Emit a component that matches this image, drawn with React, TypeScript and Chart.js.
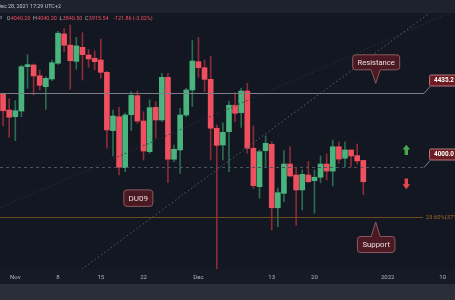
import React, { useEffect, useRef } from "react";
import { Chart, registerables } from "chart.js";

Chart.register(...registerables);

// ---------- data ----------
const dates = [
  "2021-10-30", "2021-10-31",
  "2021-11-01", "2021-11-02", "2021-11-03", "2021-11-04", "2021-11-05", "2021-11-06", "2021-11-07",
  "2021-11-08", "2021-11-09", "2021-11-10", "2021-11-11", "2021-11-12", "2021-11-13", "2021-11-14",
  "2021-11-15", "2021-11-16", "2021-11-17", "2021-11-18", "2021-11-19", "2021-11-20", "2021-11-21",
  "2021-11-22", "2021-11-23", "2021-11-24", "2021-11-25", "2021-11-26", "2021-11-27", "2021-11-28",
  "2021-11-29", "2021-11-30",
  "2021-12-01", "2021-12-02", "2021-12-03", "2021-12-04", "2021-12-05", "2021-12-06", "2021-12-07",
  "2021-12-08", "2021-12-09", "2021-12-10", "2021-12-11", "2021-12-12", "2021-12-13", "2021-12-14",
  "2021-12-15", "2021-12-16", "2021-12-17", "2021-12-18", "2021-12-19", "2021-12-20", "2021-12-21",
  "2021-12-22", "2021-12-23", "2021-12-24", "2021-12-25", "2021-12-26", "2021-12-27", "2021-12-28",
];
const opens = [
  4428, 4334,
  4295, 4328, 4587, 4597, 4534, 4470, 4515,
  4607, 4778, 4713, 4618, 4700, 4655, 4636,
  4626, 4554, 4214, 4295, 3998, 4307, 4418,
  4270, 4091, 4350, 4276, 4525, 4047, 4101,
  4305, 4451,
  4616, 4581, 4513, 4228, 4130, 4208, 4362,
  4319, 4445, 4111, 3887, 4097, 4134, 3764,
  3848, 4019, 3955, 3868, 3955, 3922, 3942,
  4019, 3978, 4120, 4053, 4101, 4068, 4040.2,
];
const highs = [
  4434, 4400,
  4389, 4595, 4657, 4603, 4568, 4529, 4626,
  4793, 4809, 4830, 4758, 4785, 4688, 4680,
  4747, 4560, 4334, 4350, 4317, 4441, 4445,
  4324, 4393, 4383, 4548, 4548, 4130, 4344,
  4461, 4739,
  4758, 4626, 4649, 4247, 4260, 4387, 4435,
  4461, 4490, 4241, 4101, 4183, 4149, 3879,
  4097, 4120, 4000, 3984, 4033, 3984, 4066,
  4078, 4159, 4149, 4149, 4101, 4136, 4040.2,
];
const lows = [
  4241, 4175,
  4155, 4295, 4461, 4422, 4451, 4338, 4505,
  4600, 4674, 4455, 4572, 4509, 4583, 4568,
  4519, 4111, 4066, 3955, 3974, 4214, 4257,
  4043, 4082, 4169, 4266, 3910, 4033, 3965,
  4295, 4354,
  4525, 4441, 4043, 3380, 4043, 3974, 4266,
  4233, 4082, 3877, 3819, 4004, 3634, 3653,
  3799, 3945, 3663, 3751, 3910, 3732, 3910,
  3926, 3891, 4023, 4004, 4004, 4019, 3840.5,
];
const closes = [
  4330, 4292,
  4330, 4587, 4599, 4533, 4478, 4519, 4610,
  4782, 4712, 4622, 4708, 4657, 4632, 4616,
  4554, 4218, 4299, 4000, 4305, 4420, 4270,
  4095, 4348, 4276, 4525, 4047, 4105, 4305,
  4451, 4620,
  4581, 4513, 4228, 4128, 4204, 4362, 4315,
  4445, 4111, 3893, 4091, 4140, 3764, 3852,
  4019, 3949, 3868, 3959, 3916, 3942, 4019,
  3978, 4120, 4048, 4101, 4066, 4037.4, 3915.54,
];

const tickDates = ["2021-11-01", "2021-11-08", "2021-11-15", "2021-11-22", "2021-12-01", "2021-12-13", "2021-12-20", "2022-01-01", "2022-01-10"];
const tickLabels = ["Nov", "8", "15", "22", "Dec", "13", "20", "2022", "10"];

const headerDate = "Dec 28, 2021 17:29 UTC+2";
const resistanceLevel = 4435.2;
const pivotLevel = 4000.0;
const fibLevel = 3711.76;
const fibPct = "23.60%";

// drawings anchored in (day, price)
const mainTrendDays = [10.88, 55.92];
const mainTrendPrices = [3405, 4587];
const faintTrendDays = [-2.5, 59.74];
const faintTrendPrices = [3763, 4725];
const calloutTipDay = 59.03;
const resistanceTipPrice = 4490;
const supportTipPrice = 3681;
const du09Day = 20.07;
const du09Price = 3823;
const arrowDay = 64.05;
const upArrowPrice = 4101;
const downArrowPrice = 3904;
const levelEndDay = 66.95;

// view range
const viewStartDay = -2.506;
const viewEndDay = 72.02;
const priceMin = 3406.7;
const priceMax = 4900.1;

// ---------- helpers ----------
const BASE = Date.UTC(2021, 10, 1);
const dayOf = (d: string) => (Date.parse(d + "T00:00:00Z") - BASE) / 86400000;
const dayIndex = dates.map(dayOf);

const UP = "#49b47e";
const DOWN = "#ef4f5f";
const UP_WICK = "#2c6a4f";
const DOWN_WICK = "#8a2b36";
const FONT = 'Roboto, "Noto Sans", Arial, sans-serif';

function roundRectPath(ctx: CanvasRenderingContext2D, x0: number, y0: number, w: number, h: number, r: number, notch?: { dir: "up" | "down"; tipX: number; tipY: number; half: number }) {
  const x1 = x0 + w, y1 = y0 + h;
  ctx.beginPath();
  ctx.moveTo(x0 + r, y0);
  if (notch && notch.dir === "up") {
    ctx.lineTo(notch.tipX - notch.half, y0);
    ctx.lineTo(notch.tipX, notch.tipY);
    ctx.lineTo(notch.tipX + notch.half, y0);
  }
  ctx.lineTo(x1 - r, y0);
  ctx.arcTo(x1, y0, x1, y0 + r, r);
  ctx.lineTo(x1, y1 - r);
  ctx.arcTo(x1, y1, x1 - r, y1, r);
  if (notch && notch.dir === "down") {
    ctx.lineTo(notch.tipX + notch.half, y1);
    ctx.lineTo(notch.tipX, notch.tipY);
    ctx.lineTo(notch.tipX - notch.half, y1);
  }
  ctx.lineTo(x0 + r, y1);
  ctx.arcTo(x0, y1, x0, y1 - r, r);
  ctx.lineTo(x0, y0 + r);
  ctx.arcTo(x0, y0, x0 + r, y0, r);
  ctx.closePath();
}

const decorPlugin = {
  id: "tvDecor",
  beforeDraw(chart: any) {
    const { ctx, width, height, chartArea } = chart;
    ctx.save();
    ctx.fillStyle = "#131722";
    ctx.fillRect(0, 0, width, height);
    ctx.fillStyle = "#1e222d";
    ctx.fillRect(0, 0, width, chartArea.top);
    ctx.fillStyle = "#161a25";
    ctx.fillRect(0, chartArea.bottom, width, 15);
    ctx.fillStyle = "#2a2e39";
    ctx.fillRect(0, chartArea.bottom + 15, width, height - chartArea.bottom - 15);
    ctx.restore();
  },
  afterDatasetsDraw(chart: any) {
    const { ctx, chartArea, scales } = chart;
    const xs = scales.x, ys = scales.y;
    const X = (d: number) => xs.getPixelForValue(d);
    const Y = (p: number) => ys.getPixelForValue(p);
    ctx.save();

    // clip for drawings
    ctx.save();
    ctx.beginPath();
    ctx.rect(chartArea.left, chartArea.top, chartArea.right - chartArea.left, chartArea.bottom - chartArea.top);
    ctx.clip();

    const trend = (days: number[], prices: number[], color: string, dash: number[]) => {
      const slope = (prices[1] - prices[0]) / (days[1] - days[0]);
      const dEnd = viewEndDay + 5;
      const pEnd = prices[0] + slope * (dEnd - days[0]);
      ctx.strokeStyle = color;
      ctx.lineWidth = 1;
      ctx.setLineDash(dash);
      ctx.beginPath();
      ctx.moveTo(X(days[0]), Y(prices[0]));
      ctx.lineTo(X(dEnd), Y(pEnd));
      ctx.stroke();
    };
    trend(faintTrendDays, faintTrendPrices, "#2d313d", [1.5, 2.5]);
    trend(mainTrendDays, mainTrendPrices, "#5a5e6a", [1.5, 2.5]);
    ctx.setLineDash([]);

    const xe = X(levelEndDay);
    // resistance level (solid)
    const yR = Math.round(Y(resistanceLevel)) + 0.5;
    ctx.strokeStyle = "#7b7e88";
    ctx.lineWidth = 1;
    ctx.beginPath();
    ctx.moveTo(0, yR);
    ctx.lineTo(xe, yR);
    ctx.lineTo(xe + 6, yR - 7);
    ctx.stroke();
    // pivot level (dashed)
    const yP = Math.round(Y(pivotLevel)) + 0.5;
    ctx.strokeStyle = "#4e525d";
    ctx.setLineDash([3, 3]);
    ctx.beginPath();
    ctx.moveTo(0, yP);
    ctx.lineTo(xe, yP);
    ctx.stroke();
    ctx.setLineDash([]);
    ctx.strokeStyle = "#7b7e88";
    ctx.beginPath();
    ctx.moveTo(xe, yP);
    ctx.lineTo(xe + 6, yP - 7);
    ctx.stroke();
    // fib line
    const yF = Math.round(Y(fibLevel)) + 0.5;
    ctx.strokeStyle = "#6e4a1c";
    ctx.beginPath();
    ctx.moveTo(0, yF);
    ctx.lineTo(xe - 1, yF);
    ctx.stroke();
    ctx.fillStyle = "#a06a26";
    ctx.font = `5.8px ${FONT}`;
    ctx.textBaseline = "middle";
    ctx.textAlign = "left";
    ctx.fillText(`${fibPct}(${fibLevel.toFixed(2)})`, xe + 2, yF);

    // level price tags
    const tag = (y: number, text: string) => {
      const bx = xe + 5.5, by = y - 18.5;
      ctx.fillStyle = "#6e1c24";
      ctx.strokeStyle = "#b4777e";
      ctx.lineWidth = 1;
      roundRectPath(ctx, bx, by, 40, 11, 1.5);
      ctx.fill();
      ctx.stroke();
      ctx.fillStyle = "#ffffff";
      ctx.font = `bold 6.3px ${FONT}`;
      ctx.textBaseline = "middle";
      ctx.fillText(text, bx + 4.5, by + 5.8);
    };
    tag(yR, resistanceLevel.toFixed(1));
    tag(yP, pivotLevel.toFixed(1));

    // callouts
    const callout = (cx: number, tipY: number, dir: "up" | "down", text: string, w: number, h: number, fs: number) => {
      const x0 = cx - w / 2;
      const y0 = dir === "down" ? tipY - 14 - h : tipY + 14;
      ctx.fillStyle = "#4a1922";
      ctx.strokeStyle = "#8c5a62";
      ctx.lineWidth = 1;
      roundRectPath(ctx, x0 + 0.5, y0 + 0.5, w, h, 3, { dir, tipX: cx, tipY, half: 4.5 });
      ctx.fill();
      ctx.stroke();
      ctx.fillStyle = "#ecdcde";
      ctx.font = `${fs}px ${FONT}`;
      ctx.textAlign = "center";
      ctx.textBaseline = "middle";
      ctx.fillText(text, cx + 0.5, y0 + h / 2 + 0.8);
      ctx.textAlign = "left";
    };
    const cX = X(calloutTipDay);
    callout(cX, Y(resistanceTipPrice), "down", "Resistance", 47, 15, 7.6);
    callout(cX, Y(supportTipPrice), "up", "Support", 37.5, 16, 7.8);

    // DU09 label
    {
      const cx = X(du09Day), cy = Y(du09Price);
      const w = 29, h = 16.5;
      ctx.fillStyle = "#4a1922";
      ctx.strokeStyle = "#8c5a62";
      roundRectPath(ctx, cx - w / 2 + 0.5, cy - h / 2 + 0.5, w, h, 3);
      ctx.fill();
      ctx.stroke();
      ctx.fillStyle = "#ecdcde";
      ctx.font = `8px ${FONT}`;
      ctx.textAlign = "center";
      ctx.textBaseline = "middle";
      ctx.fillText("DU09", cx + 0.5, cy + 1);
      ctx.textAlign = "left";
    }

    // arrows
    {
      const ax = X(arrowDay);
      const yu = Y(upArrowPrice);
      ctx.fillStyle = "#45a84f";
      ctx.beginPath();
      ctx.moveTo(ax, yu - 5.2);
      ctx.lineTo(ax + 3.8, yu - 0.5);
      ctx.lineTo(ax + 1.7, yu - 0.5);
      ctx.lineTo(ax + 1.7, yu + 5);
      ctx.lineTo(ax - 1.7, yu + 5);
      ctx.lineTo(ax - 1.7, yu - 0.5);
      ctx.lineTo(ax - 3.8, yu - 0.5);
      ctx.closePath();
      ctx.fill();
      const yd = Y(downArrowPrice);
      ctx.fillStyle = "#e8464c";
      ctx.beginPath();
      ctx.moveTo(ax, yd + 5.4);
      ctx.lineTo(ax + 3.8, yd + 0.5);
      ctx.lineTo(ax + 1.7, yd + 0.5);
      ctx.lineTo(ax + 1.7, yd - 5.2);
      ctx.lineTo(ax - 1.7, yd - 5.2);
      ctx.lineTo(ax - 1.7, yd + 0.5);
      ctx.lineTo(ax - 3.8, yd + 0.5);
      ctx.closePath();
      ctx.fill();
    }
    ctx.restore(); // end clip

    // x axis labels
    ctx.fillStyle = "#b2b5be";
    ctx.font = `6px ${FONT}`;
    ctx.textAlign = "center";
    ctx.textBaseline = "middle";
    tickDates.forEach((d, i) => {
      ctx.fillText(tickLabels[i], X(dayOf(d)), chartArea.bottom + 8);
    });

    // header
    ctx.textAlign = "left";
    ctx.fillStyle = "#c3c6ce";
    ctx.font = `5.4px ${FONT}`;
    ctx.fillText(headerDate, -2.5, 6.4);

    // OHLC legend
    const n = closes.length - 1;
    const chg = closes[n] - closes[n - 1];
    const pct = (chg / closes[n - 1]) * 100;
    const gray = "#b2b5be", red = "#f0505f";
    const parts: [string, string, number][] = [
      ["P", gray, 4.5],
      ["O", gray, 0.4],
      [opens[n].toFixed(2), red, 2.6],
      ["H", gray, 0.4],
      [highs[n].toFixed(2), red, 2.6],
      ["L", gray, 0.4],
      [lows[n].toFixed(2), red, 2.6],
      ["C", gray, 0.4],
      [closes[n].toFixed(2), red, 5],
      [`${chg.toFixed(2)} (${pct.toFixed(2)}%)`, red, 0],
    ];
    ctx.font = `5.4px ${FONT}`;
    let x = -1.2;
    parts.forEach(([t, c, gap]) => {
      ctx.fillStyle = c;
      ctx.fillText(t, x, 19);
      x += ctx.measureText(t).width + gap;
    });

    ctx.restore();
  },
};

export default function App() {
  const ref = useRef<HTMLCanvasElement>(null);
  useEffect(() => {
    document.body.style.margin = "0";
    const isUp = closes.map((c, i) => c >= opens[i]);
    const wickData = dayIndex.map((d, i) => ({ x: d, y: [lows[i], highs[i]] }));
    const bodyData = dayIndex.map((d, i) => ({ x: d, y: [opens[i], closes[i]] }));
    const chart = new Chart(ref.current as HTMLCanvasElement, {
      type: "bar",
      data: {
        datasets: [
          {
            label: "body",
            data: bodyData as any,
            backgroundColor: isUp.map((u) => (u ? UP : DOWN)),
            barThickness: 5,
            minBarLength: 1,
            grouped: false,
            borderWidth: 0,
            order: 0,
          } as any,
          {
            label: "wick",
            data: wickData as any,
            backgroundColor: isUp.map((u) => (u ? UP_WICK : DOWN_WICK)),
            barThickness: 1,
            grouped: false,
            borderWidth: 0,
            order: 1,
          } as any,
        ],
      },
      options: {
        animation: false,
        responsive: false,
        events: [],
        layout: { padding: { top: 13, bottom: 31, left: 0, right: 0 } },
        plugins: { legend: { display: false }, tooltip: { enabled: false } },
        scales: {
          x: { type: "linear", display: false, min: viewStartDay, max: viewEndDay, offset: false },
          y: { type: "linear", display: false, min: priceMin, max: priceMax },
        },
      },
      plugins: [decorPlugin],
    });
    return () => chart.destroy();
  }, []);
  return (
    <div style={{ position: "fixed", left: 0, top: 0, width: 455, height: 300, background: "#131722" }}>
      <canvas ref={ref} width={455} height={300} style={{ display: "block", width: 455, height: 300 }} />
    </div>
  );
}
